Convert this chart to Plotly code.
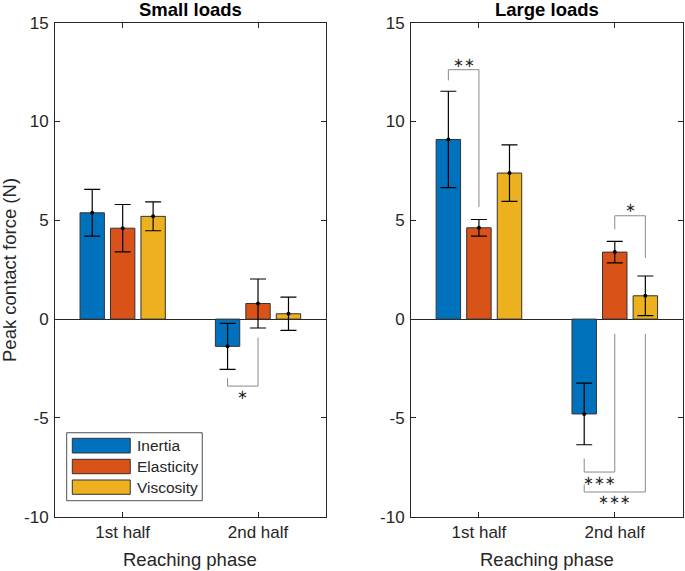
import plotly.graph_objects as go

phases = ["1st half", "2nd half"]
conditions = ["Inertia", "Elasticity", "Viscosity"]
colors = ["#0072BD", "#D95319", "#EDB120"]

# small loads: mean / sem per condition, [1st half, 2nd half]
small_mean = {
    "Inertia": [5.38, -1.38],
    "Elasticity": [4.60, 0.79],
    "Viscosity": [5.20, 0.27],
}
small_err = {
    "Inertia": [1.18, 1.16],
    "Elasticity": [1.20, 1.24],
    "Viscosity": [0.73, 0.84],
}

# large loads
large_mean = {
    "Inertia": [9.09, -4.80],
    "Elasticity": [4.62, 3.39],
    "Viscosity": [7.39, 1.18],
}
large_err = {
    "Inertia": [2.44, 1.56],
    "Elasticity": [0.42, 0.54],
    "Viscosity": [1.43, 1.00],
}

# significance brackets: (phase, cond a, cond b, bracket level, end a, end b, stars, label y)
small_sig = [
    (1, 0, 1, -3.39, -2.99, -0.94, 1, -3.80),
]
large_sig = [
    (0, 0, 1, 12.62, 12.08, 5.67, 2, 12.98),
    (1, 1, 2, 5.23, 4.54, 3.09, 1, 5.66),
    (1, 0, 1, -7.74, -7.06, -0.74, 3, -8.16),
    (1, 0, 2, -8.75, -8.37, -0.74, 3, -9.12),
]

step = 0.225
bar_w = 0.18
font = "Liberation Sans, Arial, sans-serif"
axcol = "#262626"


def xpos(phase, cond):
    return phase + 1 + (cond - 1) * step


fig = go.Figure()

panels = [(small_mean, small_err, small_sig, "x", "y"),
          (large_mean, large_err, large_sig, "x2", "y2")]

for means, errs, sigs, xa, ya in panels:
    for ci, cond in enumerate(conditions):
        xs = [xpos(p, ci) for p in range(len(phases))]
        fig.add_trace(go.Bar(
            x=xs, y=means[cond], width=bar_w, xaxis=xa, yaxis=ya,
            marker=dict(color=colors[ci], line=dict(color="#333333", width=1)),
            showlegend=False, name=cond,
        ))
        fig.add_trace(go.Scatter(
            x=xs, y=means[cond], xaxis=xa, yaxis=ya, mode="markers",
            marker=dict(color="black", size=4),
            error_y=dict(type="data", array=errs[cond], color="black",
                         thickness=1.2, width=8),
            showlegend=False, hoverinfo="skip",
        ))
    for ph, a, b, level, ya_end, yb_end, nstars, ly in sigs:
        xa_, xb_ = xpos(ph, a), xpos(ph, b)
        fig.add_trace(go.Scatter(
            x=[xa_, xa_, xb_, xb_], y=[ya_end, level, level, yb_end],
            xaxis=xa, yaxis=ya, mode="lines",
            line=dict(color="#8a8a8a", width=1),
            showlegend=False, hoverinfo="skip",
        ))
        fig.add_annotation(x=(xa_ + xb_) / 2, y=ly, xref=xa, yref=ya,
                           text="\u2217" * nstars, showarrow=False,
                           font=dict(family="DejaVu Sans", size=13, color=axcol))

axis_common = dict(
    showline=True, linecolor=axcol, linewidth=0.8, mirror="ticks",
    ticks="inside", ticklen=5, tickcolor=axcol, tickwidth=0.8,
    showgrid=False, automargin=False,
    tickfont=dict(family=font, size=17, color=axcol),
)
yticks = [-10, -5, 0, 5, 10, 15]
yaxis_common = dict(axis_common, range=[-10, 15], tickvals=yticks,
                    ticktext=[str(v) for v in yticks], ticklabelstandoff=2,
                    zeroline=True, zerolinecolor=axcol, zerolinewidth=0.8)
xaxis_common = dict(axis_common, range=[0.5, 2.5], tickvals=[1, 2],
                    ticktext=phases, zeroline=False)

ydom = [1 - 516.7 / 571, 1 - 22.7 / 571]
fig.update_layout(
    width=685, height=571,
    margin=dict(l=0, r=0, t=0, b=0),
    plot_bgcolor="white", paper_bgcolor="white",
    barmode="overlay",
    xaxis=dict(xaxis_common, domain=[55 / 685, 325.7 / 685], anchor="y"),
    yaxis=dict(yaxis_common, domain=ydom, anchor="x"),
    xaxis2=dict(xaxis_common, domain=[411 / 685, 682.7 / 685], anchor="y2"),
    yaxis2=dict(yaxis_common, domain=ydom, anchor="x2"),
)

# titles and axis labels
for xa, title in [("x", "Small loads"), ("x2", "Large loads")]:
    fig.add_annotation(x=0.5, xref=xa + " domain", y=1 - 9 / 571, yref="paper",
                       text="<b>%s</b>" % title, showarrow=False, yanchor="middle",
                       font=dict(family=font, size=18.5, color="black"))
    fig.add_annotation(x=0.5, xref=xa + " domain", y=1 - 559 / 571, yref="paper",
                       text="Reaching phase", showarrow=False, yanchor="middle",
                       font=dict(family=font, size=18.5, color=axcol))
fig.add_annotation(x=10 / 685, xref="paper", y=1 - 270 / 571, yref="paper",
                   text="Peak contact force (N)", showarrow=False, textangle=-90,
                   xanchor="center", yanchor="middle",
                   font=dict(family=font, size=18.5, color=axcol))

# legend drawn MATLAB-style inside the left panel
fig.add_shape(type="rect", xref="x domain", yref="y domain",
              x0=0.0432, x1=0.544, y0=0.0324, y1=0.170,
              line=dict(color=axcol, width=0.8), fillcolor="white")
leg_rows = [(0.1587, 0.129), (0.1162, 0.087), (0.0743, 0.0453)]
for ci, cond in enumerate(conditions):
    top, bot = leg_rows[ci]
    fig.add_shape(type="rect", xref="x domain", yref="y domain",
                  x0=0.0639, x1=0.278, y0=bot, y1=top,
                  line=dict(color="#333333", width=1), fillcolor=colors[ci])
    fig.add_annotation(x=0.2955, xref="x domain", y=(top + bot) / 2, yref="y domain",
                       text=cond, showarrow=False, xanchor="left", yanchor="middle",
                       font=dict(family=font, size=15.5, color=axcol))

fig.write_html("out.html", config={"displayModeBar": False},
               post_script="document.body.style.margin='0';")
